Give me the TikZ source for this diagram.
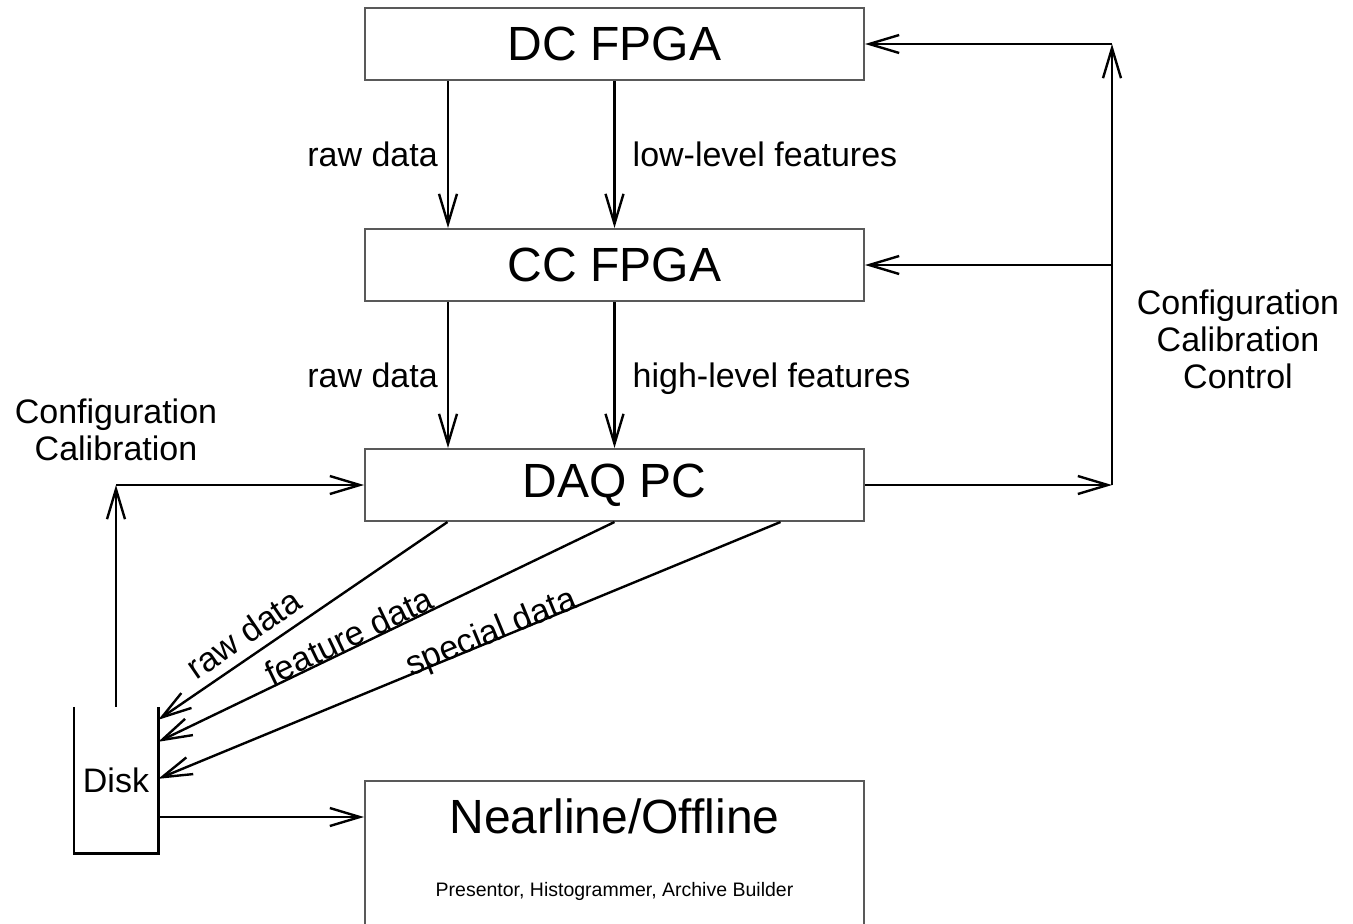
\documentclass[tikz,border=0pt]{standalone}
\usepackage{fontspec}
\setmainfont{Liberation Sans}
\usetikzlibrary{arrows.meta, positioning}

\begin{document}
\begin{tikzpicture}[
  x=1pt, y=-1pt,
  box/.style={
    draw=black!65,
    line width=2pt,
    minimum width=499pt,
    minimum height=72pt,
    font=\fontsize{48}{52}\selectfont
  },
  lbl/.style={inner sep=0pt, align=center, font=\fontsize{34}{37}\selectfont},
  tools/.style={inner sep=0pt, font=\fontsize{19.5}{22}\selectfont},
  arrow/.style={-{Straight Barb[length=30pt, width=18pt]}, line width=2.4pt},
  vessel/.style={line width=2.6pt}
]
\useasboundingbox (0,0) rectangle (1353,924);
\clip (0,0) rectangle (1353,924);

% Processing chain
\node[box] (dc) at (614.5,44) {DC FPGA};
\node[box] (cc) [below=147pt of dc] {CC FPGA};
\node[box] (daq) [below=146pt of cc] {DAQ PC};

% Offline side
\node[box, minimum height=170pt] (near) [below=258pt of daq] {};
\node[box, draw=none, inner sep=0pt] (neartitle) at ([yshift=-36pt]near.north) {Nearline/Offline};
\node[tools] (toollist) at ([yshift=-111pt]near.north) {Presentor, Histogrammer, Archive Builder};

% Storage
\node[lbl, minimum width=84pt, minimum height=146pt] (disk) at (116,780) {Disk};
\draw[vessel] (disk.north west) -- (disk.south west) -- (disk.south east) -- (disk.north east);

% Notes
\node[lbl] (ctrlnote) at (1238,339) {Configuration\\Calibration\\Control};
\node[lbl] (calnote) at (116,430) {Configuration\\Calibration};

% Data flow down
\draw[arrow] ([xshift=-166.5pt]dc.south) -- ([xshift=-166.5pt]cc.north)
  node[lbl, midway, left=9pt] {raw data};
\draw[arrow] (dc.south) -- (cc.north)
  node[lbl, midway, right=17pt] {low-level features};
\draw[arrow] ([xshift=-166.5pt]cc.south) -- ([xshift=-166.5pt]daq.north)
  node[lbl, midway, left=9pt] {raw data};
\draw[arrow] (cc.south) -- (daq.north)
  node[lbl, midway, right=17pt, text depth=0pt] {high-level features};

% Data to disk
\draw[arrow] ([xshift=-167pt]daq.south) -- ([yshift=-13pt]disk.north east)
  node[lbl, pos=0.66, sloped, above=9pt] {raw data};
\draw[arrow] (daq.south) -- ([yshift=-35pt]disk.north east)
  node[lbl, pos=0.57, sloped, above=-1pt] {feature data};
\draw[arrow] ([xshift=166pt]daq.south) -- ([yshift=-72pt]disk.north east)
  node[lbl, pos=0.46, sloped, above=-10pt] {special data};

% Disk loops
\coordinate (diskup) at (disk.north |- daq.west);
\draw[arrow] (disk.north) -- (diskup);
\draw[arrow] (diskup) -- (daq.west);
\draw[arrow] ([yshift=-37pt]disk.east) -- ([yshift=-37pt]disk.east -| near.west);

% Control bus
\coordinate (bustop) at (1112,44);
\coordinate (busbot) at (bustop |- daq.east);
\draw[arrow] (daq.east) -- (busbot);
\draw[arrow] (busbot) -- (bustop);
\draw[arrow] (bustop) -- (dc.east);
\draw[arrow] (bustop |- cc.east) -- (cc.east);

\end{tikzpicture}
\end{document}
